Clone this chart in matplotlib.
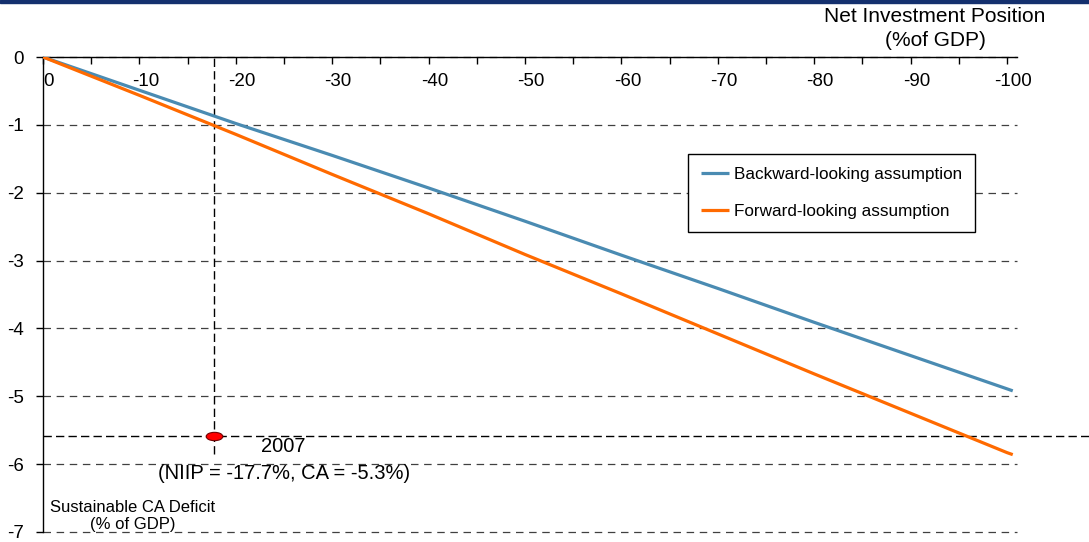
import matplotlib
matplotlib.use('Agg')
import matplotlib.pyplot as plt
from matplotlib.path import Path
from matplotlib.transforms import Affine2D, offset_copy
from matplotlib.patches import Rectangle

plt.rcParams['font.family'] = ['Liberation Sans', 'DejaVu Sans']
plt.rcParams['axes.unicode_minus'] = False

# ---- data ----
niip = [0, -10, -20, -30, -40, -50, -60, -70, -80, -90, -100, -100.6]
backward = [0, -0.49, -0.98, -1.45, -1.93, -2.42, -2.92, -3.41, -3.91, -4.40, -4.89, -4.92]
forward = [0, -0.565, -1.14, -1.73, -2.31, -2.91, -3.49, -4.08, -4.67, -5.25, -5.83, -5.86]

x_major = [0, -10, -20, -30, -40, -50, -60, -70, -80, -90, -100]
x_labels = ["0", "-10", "-20", "-30", "-40", "-50", "-60", "-70", "-80", "-90", "-100"]
x_minor = [-5, -15, -25, -35, -45, -55, -65, -75, -85, -95]
y_ticks = [0, -1, -2, -3, -4, -5, -6, -7]
y_labels = ["0", "-1", "-2", "-3", "-4", "-5", "-6", "-7"]

point_2007_x = -17.7
point_2007_y = -5.58
vline_bottom = -5.85

series_names = ["Backward-looking assumption", "Forward-looking assumption"]
blue = '#4a8bb2'
orange = '#ff6a00'

W, H = 1089, 542
dy = 3  # small upward shift so the bottom label is not clipped
TOP, BOT = 60 - dy, 535 - dy
fig = plt.figure(figsize=(W / 100, H / 100), dpi=100)
ax = fig.add_axes([43 / W, 1 - BOT / H, (1017 - 43) / W, (BOT - TOP) / H])
ax.set_xlim(0, -101.04)
ax.set_ylim(-7, 0)

# header band
fig.patches.append(Rectangle((0, 1 - 3 / H), 1, 3 / H, transform=fig.transFigure,
                             color='#14306e', zorder=10))

for s in ['right', 'bottom']:
    ax.spines[s].set_visible(False)
for s in ['left', 'top']:
    ax.spines[s].set_linewidth(1.0)
    ax.spines[s].set_color('black')

# x ticks on top, labels inside
ax.xaxis.tick_top()
ax.set_xticks(x_major)
ax.set_xticks(x_minor, minor=True)
ax.tick_params(axis='x', which='both', direction='in', length=5, width=1,
               labeltop=False, labelbottom=False)
tr = offset_copy(ax.get_xaxis_transform(), fig=fig, x=6, y=-25, units='dots')
for xv, lab in zip(x_major, x_labels):
    ax.text(xv, 1, lab, transform=tr, ha='center', va='center', fontsize=13.5)

ax.set_yticks(y_ticks)
ax.set_yticklabels(y_labels, fontsize=13.5)
ax.tick_params(axis='y', direction='out', length=5, width=1, pad=9)

# grid
ax.set_axisbelow(True)
ax.grid(axis='y', linestyle=(0, (6, 4.5)), color='#404040', linewidth=0.9)
for gl in ax.get_ygridlines():
    gl.set_clip_on(False)

# reference lines for 2007
ax.axhline(point_2007_y, xmin=0, xmax=(W - 43) / (1017 - 43), color='black',
           linewidth=1.0, linestyle=(0, (6, 3)), clip_on=False, zorder=2)
ax.vlines(point_2007_x, vline_bottom, 0, color='black', linewidth=1.0,
          linestyles=[(0, (6, 3))], zorder=2)

l1, = ax.plot(niip, backward, color=blue, lw=2.3, label=series_names[0], zorder=3,
              solid_capstyle='butt')
l2, = ax.plot(niip, forward, color=orange, lw=2.3, label=series_names[1], zorder=3,
              solid_capstyle='butt')

ell = Path.unit_circle().transformed(Affine2D().scale(1, 0.5))
ax.plot([point_2007_x], [point_2007_y], marker=ell, ms=12, mfc='#ff0000',
        mec='#700000', mew=0.8, linestyle='none', zorder=5, clip_on=False)

ax.annotate("2007", xy=(point_2007_x, point_2007_y), xytext=(70, -11),
            textcoords='offset pixels', ha='center', va='center', fontsize=14.5)
ax.annotate("(NIIP = -17.7%, CA = -5.3%)", xy=(point_2007_x, point_2007_y),
            xytext=(70, -38), textcoords='offset pixels', ha='center', va='center',
            fontsize=14.5)

leg = ax.legend(handles=[l1, l2], loc='upper left',
                bbox_to_anchor=(688 / W, 1 - (157 - dy) / H), bbox_transform=fig.transFigure,
                frameon=True, fancybox=False, edgecolor='black', framealpha=1,
                fontsize=12.3, handlelength=1.65, handletextpad=0.3,
                labelspacing=1.3, borderpad=0.75, borderaxespad=0)
leg.get_frame().set_linewidth(1.0)

fig.text(935 / W, 1 - (20 - dy) / H, "Net Investment Position", ha='center', va='center',
         fontsize=15)
fig.text(935 / W, 1 - (44 - dy) / H, "(%of GDP)", ha='center', va='center', fontsize=15)

fig.text(133 / W, 1 - (510 - dy) / H, "Sustainable CA Deficit", ha='center', va='center',
         fontsize=12)
fig.text(133 / W, 1 - (527 - dy) / H, "(% of GDP)", ha='center', va='center', fontsize=12)

fig.savefig('out.png', dpi=100)
